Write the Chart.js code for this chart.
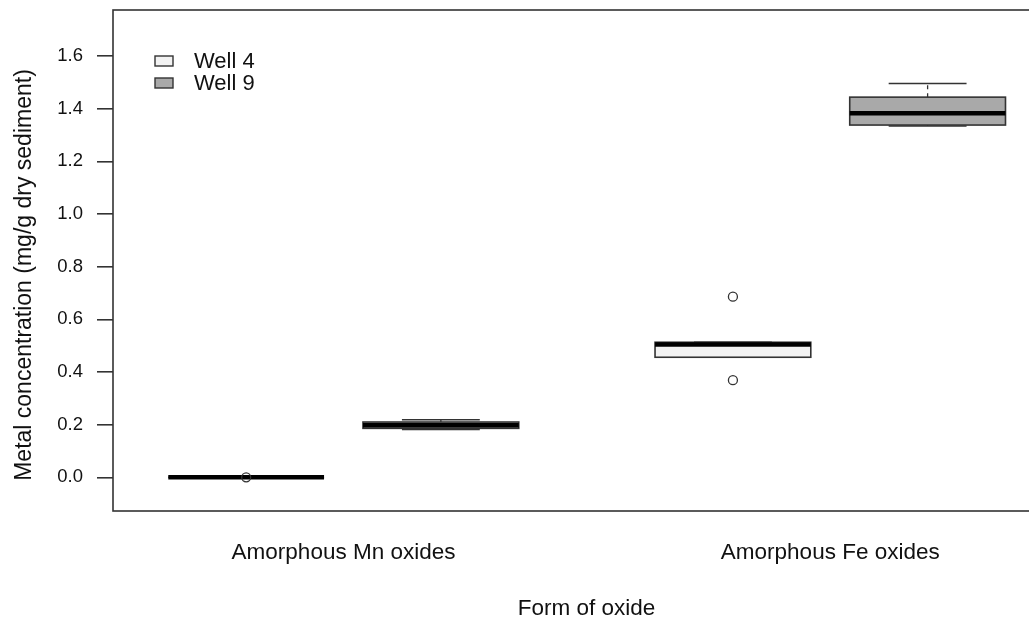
<!DOCTYPE html>
<html>
<head>
<meta charset="utf-8">
<script src="https://cdn.jsdelivr.net/npm/chart.js@4/dist/chart.umd.min.js"></script>
<style>
  html, body { margin: 0; padding: 0; background: #fff; overflow: hidden; }
  #wrap { width: 1066px; height: 620px; }
</style>
</head>
<body>
<div id="wrap"><canvas id="c" width="1066" height="620"></canvas></div>
<script>
// Groups on the x axis and where their labels sit
const groups = ['Amorphous Mn oxides', 'Amorphous Fe oxides'];
const groupAt = [1.5, 4];

// Wells (legend entries) and their fills
const wells = ['Well 4', 'Well 9'];
const wellFill = ['#f2f2f2', '#a9a9a9'];

// One box per (group, well)
const boxAt = [1, 2, 3.5, 4.5];
const boxWell = [0, 1, 0, 1];
const lowWhisker = [0.000, 0.182, 0.456, 1.334];
const q1 = [0.000, 0.186, 0.456, 1.338];
const median = [0.000, 0.198, 0.504, 1.383];
const q3 = [0.000, 0.210, 0.513, 1.444];
const highWhisker = [0.000, 0.219, 0.513, 1.496];

// Outlying observations
const outlierAt = [1, 3.5, 3.5];
const outlierVal = [0.000, 0.686, 0.369];

// Y axis ticks and title
const yTicks = [0.0, 0.2, 0.4, 0.6, 0.8, 1.0, 1.2, 1.4, 1.6];
const yTitle = 'Metal concentration (mg/g dry sediment)';

const FONT = '"Liberation Sans", Arial, Helvetica, sans-serif';
const INK = '#111';
const LINE = '#333';
const BOX_W = 0.8;
const STAPLE_W = 0.4;

const boxPlugin = {
  id: 'boxes',
  beforeDatasetsDraw(chart) {
    const { ctx, scales: { x, y } } = chart;
    ctx.save();
    ctx.beginPath();
    ctx.rect(chart.chartArea.left, chart.chartArea.top,
             chart.chartArea.right - chart.chartArea.left,
             chart.chartArea.bottom - chart.chartArea.top);
    ctx.clip();
    for (let i = 0; i < boxAt.length; i++) {
      const cx = x.getPixelForValue(boxAt[i]);
      const bl = x.getPixelForValue(boxAt[i] - BOX_W / 2);
      const br = x.getPixelForValue(boxAt[i] + BOX_W / 2);
      const sl = x.getPixelForValue(boxAt[i] - STAPLE_W / 2);
      const sr = x.getPixelForValue(boxAt[i] + STAPLE_W / 2);
      const yLo = y.getPixelForValue(lowWhisker[i]);
      const yQ1 = y.getPixelForValue(q1[i]);
      const yMd = y.getPixelForValue(median[i]);
      const yQ3 = y.getPixelForValue(q3[i]);
      const yHi = y.getPixelForValue(highWhisker[i]);

      // whiskers (dashed)
      ctx.strokeStyle = LINE;
      ctx.lineWidth = 1.3;
      ctx.setLineDash([4, 4]);
      ctx.beginPath();
      ctx.moveTo(cx, yQ3); ctx.lineTo(cx, yHi);
      ctx.moveTo(cx, yQ1); ctx.lineTo(cx, yLo);
      ctx.stroke();
      ctx.setLineDash([]);

      // staples
      ctx.lineWidth = 1.5;
      ctx.beginPath();
      ctx.moveTo(sl, yHi); ctx.lineTo(sr, yHi);
      ctx.moveTo(sl, yLo); ctx.lineTo(sr, yLo);
      ctx.stroke();

      // box
      ctx.fillStyle = wellFill[boxWell[i]];
      ctx.fillRect(bl, yQ3, br - bl, yQ1 - yQ3);
      ctx.lineWidth = 1.6;
      ctx.strokeRect(bl, yQ3, br - bl, yQ1 - yQ3);

      // median
      ctx.strokeStyle = '#000';
      ctx.lineWidth = 4.5;
      ctx.lineCap = 'butt';
      ctx.beginPath();
      ctx.moveTo(bl, yMd); ctx.lineTo(br, yMd);
      ctx.stroke();
    }
    ctx.restore();
  },
  afterDraw(chart) {
    const { ctx, chartArea: a } = chart;
    ctx.save();
    // plot frame
    ctx.strokeStyle = LINE;
    ctx.lineWidth = 1.6;
    ctx.strokeRect(a.left, a.top, a.right - a.left, a.bottom - a.top);

    // legend
    ctx.font = '22px ' + FONT;
    ctx.textBaseline = 'middle';
    ctx.textAlign = 'left';
    for (let k = 0; k < wells.length; k++) {
      const cy = 61 + k * 22;
      ctx.fillStyle = wellFill[k];
      ctx.fillRect(155, cy - 5, 18, 10);
      ctx.strokeStyle = LINE;
      ctx.lineWidth = 1.4;
      ctx.strokeRect(155, cy - 5, 18, 10);
      ctx.fillStyle = INK;
      ctx.fillText(wells[k], 194, cy + 1);
    }

    // y axis title, rotated
    ctx.translate(31, 275);
    ctx.rotate(-Math.PI / 2);
    ctx.font = '23px ' + FONT;
    ctx.textAlign = 'center';
    ctx.textBaseline = 'alphabetic';
    ctx.fillStyle = INK;
    ctx.fillText(yTitle, 0, 0);
    ctx.restore();
  }
};

new Chart(document.getElementById('c'), {
  type: 'scatter',
  data: {
    datasets: [{
      label: 'outliers',
      data: outlierAt.map((v, i) => ({ x: v, y: outlierVal[i] })),
      pointRadius: 4.5,
      pointHoverRadius: 4.5,
      pointBorderWidth: 1.3,
      pointBorderColor: LINE,
      pointBackgroundColor: 'rgba(0,0,0,0)'
    }]
  },
  options: {
    responsive: false,
    animation: false,
    devicePixelRatio: 1,
    events: [],
    layout: { padding: { top: 10, right: 1, left: 0, bottom: 0 } },
    plugins: { legend: { display: false }, tooltip: { enabled: false } },
    scales: {
      x: {
        type: 'linear',
        min: 0.316,
        max: 5.181,
        afterFit(scale) {
          scale.height = 109;
          scale.paddingLeft = 0; scale.paddingRight = 0;
        },
        afterBuildTicks(scale) { scale.ticks = groupAt.map(v => ({ value: v })); },
        grid: { display: false },
        border: { display: false },
        ticks: {
          autoSkip: false,
          maxRotation: 0,
          padding: 20,
          color: INK,
          font: { family: FONT, size: 22.5 },
          callback(value) {
            const i = groupAt.indexOf(value);
            return i >= 0 ? groups[i] : '';
          }
        },
        title: {
          display: true,
          text: 'Form of oxide',
          color: INK,
          font: { family: FONT, size: 22.5 },
          padding: { top: 0, bottom: -2 }
        }
      },
      y: {
        type: 'linear',
        min: -0.128,
        max: 1.775,
        afterFit(scale) {
          scale.width = 113;
          scale.paddingTop = 0; scale.paddingBottom = 0;
        },
        afterBuildTicks(scale) { scale.ticks = yTicks.map(v => ({ value: v })); },
        grid: {
          display: true,
          drawOnChartArea: false,
          drawTicks: true,
          tickLength: 16,
          color: LINE,
          lineWidth: 1.6
        },
        border: { display: false },
        ticks: {
          padding: 14,
          color: INK,
          font: { family: FONT, size: 18.5 },
          callback(value) { return Number(value).toFixed(1); }
        },
        title: { display: false }
      }
    }
  },
  plugins: [boxPlugin]
});
</script>
</body>
</html>
